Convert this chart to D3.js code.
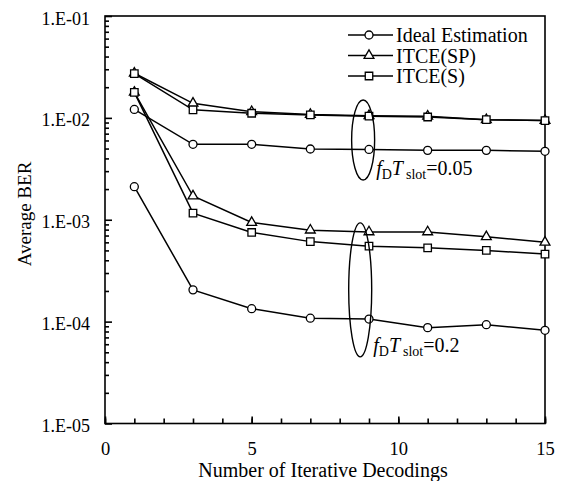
<!DOCTYPE html>
<meta charset="utf-8">
<style>
body { margin: 0; background: #fff; }
svg { font-family: "Liberation Serif", "Times New Roman", serif; }
.line { fill: none; stroke: #000; stroke-width: 1.5px; }
.mark { fill: #fff; stroke: #000; stroke-width: 1.3px; }
.axis path, .axis line { stroke: #000; stroke-width: 1.6px; }
</style>
<body>
<script src="https://d3js.org/d3.v7.min.js"></script>
<script>

// iterations on the x axis
var iterations = [1, 3, 5, 7, 9, 11, 13, 15];

// fD*Tslot = 0.05
var ideal005 = [0.0121, 0.0055, 0.0055, 0.00495, 0.0049, 0.0048, 0.0048, 0.0047];
var sp005    = [0.0274, 0.0139, 0.0115, 0.0108, 0.0105, 0.0104, 0.0096, 0.0094];
var s005     = [0.0272, 0.0120, 0.0111, 0.0107, 0.0104, 0.0102, 0.0096, 0.0094];

// fD*Tslot = 0.2
var ideal02 = [0.00211, 0.000205, 0.000134, 0.000108, 0.000106, 0.0000873, 0.0000933, 0.0000822];
var sp02    = [0.0178, 0.00171, 0.00094, 0.00079, 0.00076, 0.00076, 0.00068, 0.0006];
var s02     = [0.0178, 0.00116, 0.00075, 0.00061, 0.00055, 0.00053, 0.0005, 0.00046];

var yTicks = [1e-5, 1e-4, 1e-3, 1e-2, 1e-1];
var yTickLabels = ["1.E-05", "1.E-04", "1.E-03", "1.E-02", "1.E-01"];
var xTicks = [0, 5, 10, 15];

var legendNames = ["Ideal Estimation", "ITCE(SP)", "ITCE(S)"];
var legendShapes = ["circle", "triangle", "square"];

// ellipse callouts: centre in data units
var callouts = [
  {x: 8.8, y: 0.00607, ry: 40, label: "0.05"},
  {x: 8.7, y: 0.000205, ry: 67, label: "0.2"}
];

var W = 563, H = 481;
var pLeft = 105, pRight = 545, pTop = 16, pBottom = 423.5;

var x = d3.scaleLinear().domain([0, 15]).range([pLeft, pRight]);
var y = d3.scaleLog().domain([1e-5, 1e-1]).range([pBottom, pTop]);

var svg = d3.select("body").append("svg")
    .attr("width", W)
    .attr("height", H);

// frame
svg.append("rect")
    .attr("x", pLeft).attr("y", pTop)
    .attr("width", pRight - pLeft).attr("height", pBottom - pTop)
    .attr("fill", "none").attr("stroke", "#000").attr("stroke-width", 1.6);

// minor y ticks (2..9 in every decade)
var minorY = [];
yTicks.slice(0, -1).forEach(function(d) {
  for (var k = 2; k < 10; k++) minorY.push(d * k);
});
svg.append("g").attr("class", "axis")
    .attr("transform", "translate(" + pLeft + ",0)")
    .call(d3.axisRight(y).tickValues(minorY).tickSize(4).tickFormat(""))
    .select(".domain").remove();
svg.append("g").attr("class", "axis")
    .attr("transform", "translate(" + pLeft + ",0)")
    .call(d3.axisRight(y).tickValues(yTicks).tickSize(7).tickFormat(""))
    .select(".domain").remove();

// y labels
var yl = svg.append("g")
    .attr("transform", "translate(" + pLeft + ",0)")
    .call(d3.axisLeft(y).tickValues(yTicks).tickSize(0)
      .tickFormat(function(d, i) { return yTickLabels[i]; }));
yl.select(".domain").remove();
yl.selectAll("text")
    .attr("x", -15).attr("dy", "0.45em")
    .style("font-family", "Liberation Serif").style("font-size", "18px").attr("fill", "#000");

// x ticks
var minorX = d3.range(0, 16);
svg.append("g").attr("class", "axis")
    .attr("transform", "translate(0," + pBottom + ")")
    .call(d3.axisTop(x).tickValues(minorX).tickSize(5).tickFormat(""))
    .select(".domain").remove();
svg.append("g").attr("class", "axis")
    .attr("transform", "translate(0," + pBottom + ")")
    .call(d3.axisTop(x).tickValues(xTicks).tickSize(7).tickFormat(""))
    .select(".domain").remove();
var xl = svg.append("g")
    .attr("transform", "translate(0," + pBottom + ")")
    .call(d3.axisBottom(x).tickValues(xTicks).tickSize(0).tickFormat(d3.format("d")));
xl.select(".domain").remove();
xl.selectAll("text")
    .attr("y", 18).attr("dy", "0.71em")
    .style("font-family", "Liberation Serif").style("font-size", "18.5px").attr("fill", "#000");

// axis titles
svg.append("text")
    .attr("x", 323).attr("y", 477)
    .attr("text-anchor", "middle")
    .style("font-size", "20px")
    .text("Number of Iterative Decodings");
svg.append("text")
    .attr("transform", "translate(31,214) rotate(-90)")
    .attr("text-anchor", "middle")
    .style("font-size", "19px")
    .text("Average BER");

// markers
function drawMarks(g, shape, pts) {
  if (shape === "circle") {
    g.selectAll("circle").data(pts).enter().append("circle")
      .attr("class", "mark")
      .attr("cx", function(d) { return d[0]; })
      .attr("cy", function(d) { return d[1]; })
      .attr("r", 4);
  } else {
    var sym = d3.symbol()
      .type(shape === "triangle" ? d3.symbolTriangle : d3.symbolSquare)
      .size(shape === "triangle" ? 42 : 56);
    g.selectAll("path").data(pts).enter().append("path")
      .attr("class", "mark")
      .attr("transform", function(d) { return "translate(" + d[0] + "," + d[1] + ")"; })
      .attr("d", sym);
  }
}

var line = d3.line()
    .x(function(d) { return x(d[0]); })
    .y(function(d) { return y(d[1]); });

var series = [
  {vals: ideal005, shape: "circle"},
  {vals: sp005, shape: "triangle"},
  {vals: s005, shape: "square"},
  {vals: ideal02, shape: "circle"},
  {vals: sp02, shape: "triangle"},
  {vals: s02, shape: "square"}
];

series.forEach(function(s) {
  var data = iterations.map(function(it, i) { return [it, s.vals[i]]; });
  svg.append("path").datum(data).attr("class", "line").attr("d", line);
});
series.forEach(function(s) {
  var pts = iterations.map(function(it, i) { return [x(it), y(s.vals[i])]; });
  drawMarks(svg.append("g"), s.shape, pts);
});

// callouts
callouts.forEach(function(c) {
  var cx = x(c.x), cy = y(c.y);
  svg.append("ellipse")
    .attr("cx", cx).attr("cy", cy)
    .attr("rx", 11.5).attr("ry", c.ry)
    .attr("fill", "none").attr("stroke", "#000").attr("stroke-width", 1.4);
  var t = svg.append("text")
    .attr("x", cx + 13).attr("y", cy + c.ry - 5)
    .style("font-size", "20px");
  t.append("tspan").style("font-style", "italic").text("f");
  t.append("tspan").attr("dy", 4).style("font-size", "14px").text("D");
  t.append("tspan").attr("dy", -4).style("font-style", "italic").text("T");
  t.append("tspan").attr("dx", 3).attr("dy", 4).style("font-size", "14px").text("slot");
  t.append("tspan").attr("dy", -4).text("=" + c.label);
});

// legend
var lg = svg.append("g");
legendNames.forEach(function(name, i) {
  var ly = 35 + i * 20.5;
  lg.append("line")
    .attr("x1", 348).attr("x2", 393).attr("y1", ly).attr("y2", ly)
    .attr("stroke", "#000").attr("stroke-width", 1.5);
  drawMarks(lg.append("g"), legendShapes[i], [[369, ly]]);
  lg.append("text")
    .attr("x", 396).attr("y", ly + 7)
    .style("font-size", "20px")
    .text(name);
});

</script>
</body>
